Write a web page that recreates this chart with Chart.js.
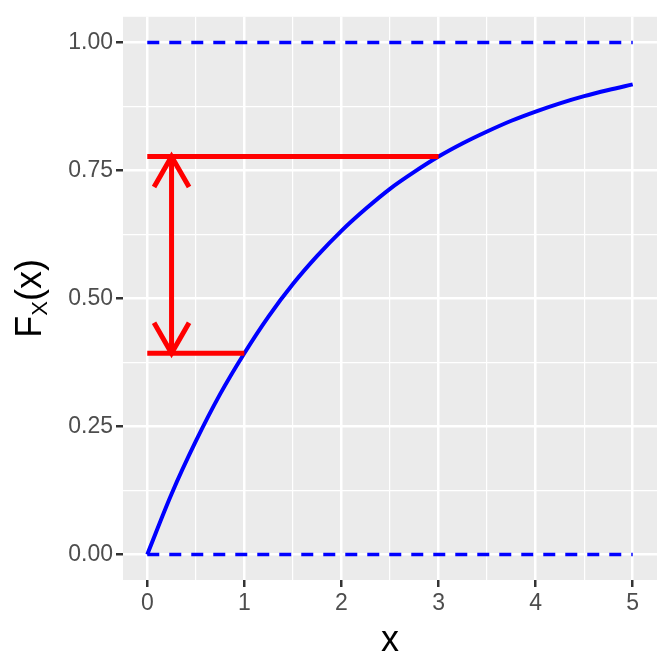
<!DOCTYPE html>
<html>
<head>
<meta charset="utf-8">
<script src="https://cdn.jsdelivr.net/npm/chart.js@4.4.1/dist/chart.umd.min.js"></script>
<style>
  html, body { margin: 0; padding: 0; background: #ffffff; }
  #chart { display: block; }
</style>
</head>
<body>
<canvas id="chart" width="672" height="672"></canvas>
<script>
// CDF curve, values
const curveX = [0, 0.25, 0.5, 0.75, 1, 1.25, 1.5, 1.75, 2, 2.25, 2.5, 2.75, 3, 3.25, 3.5, 3.75, 4, 4.25, 4.5, 4.75, 5];
const curveY = [0, 0.118, 0.221, 0.313, 0.393, 0.465, 0.528, 0.583, 0.632, 0.675, 0.714, 0.747, 0.777, 0.803, 0.826, 0.847, 0.865, 0.881, 0.895, 0.907, 0.918];

// dashed bounds at 0 and 1, running over the x range
const boundLevels = [0, 1];
const boundRange = [0, 5];

// red marks: F(1) and F(3), arrow between them
const markX = [1, 3];
const markF = [0.393, 0.777];
const arrowX = 0.25;

// axis ticks (major labelled, minor only as grid)
const xTicks = [0, 0.5, 1, 1.5, 2, 2.5, 3, 3.5, 4, 4.5, 5];
const xMajor = [0, 1, 2, 3, 4, 5];
const yTicks = [0, 0.125, 0.25, 0.375, 0.5, 0.625, 0.75, 0.875, 1];
const yMajor = [0, 0.25, 0.5, 0.75, 1];

const BLUE = '#0000FF';
const RED = '#FF0000';
const isMajor = (list, v) => list.some(m => Math.abs(m - v) < 1e-9);

const datasets = [];

boundLevels.forEach(lv => {
  datasets.push({
    data: boundRange.map(x => ({ x: x, y: lv })),
    borderColor: BLUE,
    borderWidth: 3.5,
    borderDash: [12, 10],
    borderCapStyle: 'butt'
  });
});

markX.forEach((mx, i) => {
  datasets.push({
    data: [{ x: 0, y: markF[i] }, { x: mx, y: markF[i] }],
    borderColor: RED,
    borderWidth: 5,
    borderCapStyle: 'butt'
  });
});

datasets.push({
  data: markF.map(f => ({ x: arrowX, y: f })),
  borderColor: RED,
  borderWidth: 5,
  borderCapStyle: 'butt'
});

datasets.push({
  data: curveX.map((x, i) => ({ x: x, y: curveY[i] })),
  borderColor: BLUE,
  borderWidth: 4,
  cubicInterpolationMode: 'monotone'
});

datasets.forEach(d => {
  d.showLine = true;
  d.pointRadius = 0;
  d.pointHoverRadius = 0;
  d.fill = false;
});

const panelPlugin = {
  id: 'panel',
  beforeDraw(chart) {
    const { ctx, chartArea: a } = chart;
    ctx.save();
    ctx.fillStyle = '#EBEBEB';
    ctx.fillRect(a.left, a.top, a.right - a.left, a.bottom - a.top);
    ctx.restore();
  },
  afterDatasetsDraw(chart) {
    // open arrow heads on both ends of the red arrow
    const { ctx, scales } = chart;
    const px = scales.x.getPixelForValue(arrowX);
    const len = 35, ang = Math.PI / 6;
    ctx.save();
    ctx.strokeStyle = RED;
    ctx.lineWidth = 5;
    ctx.lineJoin = 'miter';
    ctx.lineCap = 'butt';
    const tips = [
      { y: scales.y.getPixelForValue(Math.max(...markF)), dir: 1 },
      { y: scales.y.getPixelForValue(Math.min(...markF)), dir: -1 }
    ];
    tips.forEach(t => {
      const dy = Math.cos(ang) * len * t.dir;
      const dx = Math.sin(ang) * len;
      ctx.beginPath();
      ctx.moveTo(px - dx, t.y + dy);
      ctx.lineTo(px, t.y);
      ctx.lineTo(px + dx, t.y + dy);
      ctx.stroke();
    });
    ctx.restore();
  },
  afterDraw(chart) {
    const { ctx, chartArea: a } = chart;
    ctx.save();
    ctx.fillStyle = '#000000';
    // x title
    ctx.font = '36px "Liberation Sans", Arial, sans-serif';
    ctx.textAlign = 'center';
    ctx.textBaseline = 'alphabetic';
    ctx.fillText('x', (a.left + a.right) / 2, 651);

    // y title F_X(x), rotated
    const big = '36px "Liberation Sans", Arial, sans-serif';
    const small = '22px "Liberation Sans", Arial, sans-serif';
    ctx.font = big;
    const wF = ctx.measureText('F').width;
    const wR = ctx.measureText('(x)').width;
    ctx.font = small;
    const wX = ctx.measureText('X').width;
    const total = wF + wX + wR;
    ctx.translate(41, (a.top + a.bottom) / 2);
    ctx.rotate(-Math.PI / 2);
    ctx.textAlign = 'left';
    let x0 = -total / 2;
    ctx.font = big;
    ctx.fillText('F', x0, 0);
    x0 += wF;
    ctx.font = small;
    ctx.fillText('X', x0, 6);
    x0 += wX;
    ctx.font = big;
    ctx.fillText('(x)', x0, 0);
    ctx.restore();
  }
};

const tickFont = { family: '"Liberation Sans", Arial, sans-serif', size: 23 };

new Chart(document.getElementById('chart'), {
  type: 'scatter',
  data: { datasets: datasets },
  options: {
    responsive: false,
    animation: false,
    layout: { padding: { top: 15, right: 15, left: 0, bottom: 0 } },
    plugins: { legend: { display: false }, tooltip: { enabled: false } },
    scales: {
      x: {
        type: 'linear',
        min: -0.25,
        max: 5.25,
        border: { display: false },
        afterBuildTicks: s => { s.ticks = xTicks.map(v => ({ value: v })); },
        afterFit: s => { s.height = 92; },
        grid: {
          color: '#FFFFFF',
          lineWidth: c => isMajor(xMajor, c.tick.value) ? 2.5 : 1.2,
          drawTicks: true,
          tickLength: 7,
          tickWidth: 2.5,
          tickColor: c => isMajor(xMajor, c.tick.value) ? '#333333' : 'rgba(0,0,0,0)'
        },
        ticks: {
          autoSkip: false,
          maxRotation: 0,
          padding: 3,
          color: '#4D4D4D',
          font: tickFont,
          callback: v => isMajor(xMajor, v) ? String(v) : ''
        }
      },
      y: {
        type: 'linear',
        min: -0.05,
        max: 1.05,
        border: { display: false },
        afterBuildTicks: s => { s.ticks = yTicks.map(v => ({ value: v })); },
        afterFit: s => { s.width = 123; },
        grid: {
          color: '#FFFFFF',
          lineWidth: c => isMajor(yMajor, c.tick.value) ? 2.5 : 1.2,
          drawTicks: true,
          tickLength: 7,
          tickWidth: 2.5,
          tickColor: c => isMajor(yMajor, c.tick.value) ? '#333333' : 'rgba(0,0,0,0)'
        },
        ticks: {
          autoSkip: false,
          padding: 3,
          color: '#4D4D4D',
          font: tickFont,
          callback: v => isMajor(yMajor, v) ? v.toFixed(2) : ''
        }
      }
    }
  },
  plugins: [panelPlugin]
});
</script>
</body>
</html>
